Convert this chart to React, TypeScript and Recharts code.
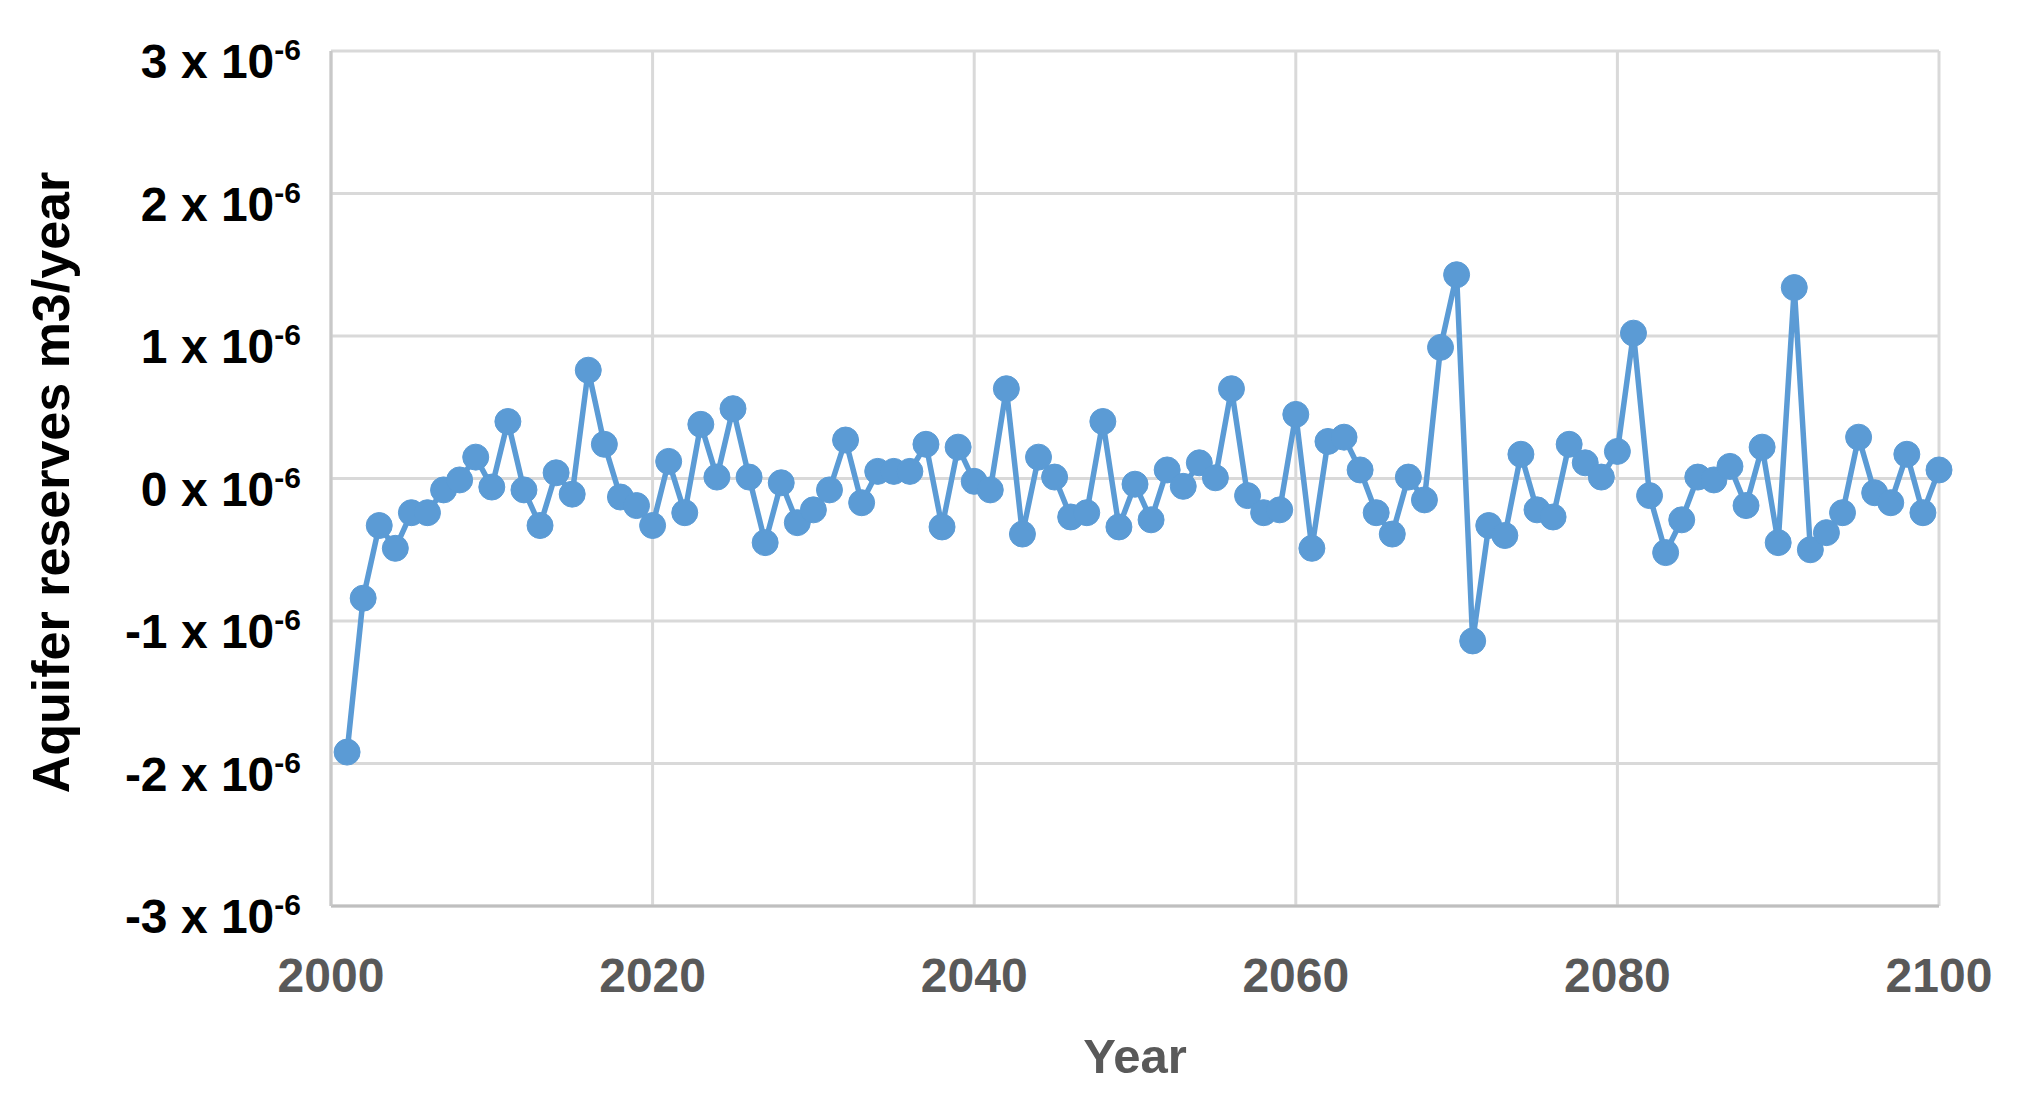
import React from 'react';
import { LineChart, Line, XAxis, YAxis, CartesianGrid, Label } from 'recharts';

// one point per year, 2001..2100
const years = Array.from({ length: 100 }, (_, i) => 2001 + i);

// aquifer reserves, in units of 10^-6 m3/year
const reserves = [
  -1.92, -0.84, -0.33, -0.49, -0.24, -0.24, -0.08, -0.01, 0.15, -0.06,
  0.4, -0.08, -0.33, 0.04, -0.11, 0.76, 0.24, -0.13, -0.19, -0.33,
  0.12, -0.24, 0.38, 0.01, 0.49, 0.01, -0.45, -0.03, -0.31, -0.22,
  -0.08, 0.27, -0.17, 0.05, 0.05, 0.05, 0.24, -0.34, 0.22, -0.02,
  -0.08, 0.63, -0.39, 0.15, 0.01, -0.27, -0.24, 0.4, -0.34, -0.04,
  -0.29, 0.06, -0.055, 0.11, 0.005, 0.63, -0.12, -0.24, -0.22, 0.45,
  -0.49, 0.26, 0.29, 0.06, -0.24, -0.39, 0.01, -0.15, 0.92, 1.43,
  -1.14, -0.33, -0.4, 0.17, -0.22, -0.27, 0.24, 0.11, 0.01, 0.19,
  1.02, -0.12, -0.52, -0.29, 0.01, -0.01, 0.085, -0.19, 0.22, -0.45,
  1.34, -0.5, -0.38, -0.24, 0.29, -0.1, -0.17, 0.17, -0.24, 0.06,
];

const xTicks = [2000, 2020, 2040, 2060, 2080, 2100];
const yTicks = [-3, -2, -1, 0, 1, 2, 3];

const data = years.map((year, i) => ({ year, value: reserves[i] }));

const FONT = '"Liberation Sans", Arial, sans-serif';

const YTick = (props: any) => {
  const { x, y, payload } = props;
  return (
    <text x={x} y={y + 27} textAnchor="end" fill="#000" fontFamily={FONT} fontWeight="bold" fontSize={48}>
      {`${payload.value} x 10`}
      <tspan fontSize={30} dy={-18}>-6</tspan>
    </text>
  );
};

const XTick = (props: any) => {
  const { x, y, payload } = props;
  return (
    <text x={x} y={y + 86} textAnchor="middle" fill="#595959" fontFamily={FONT} fontWeight="bold" fontSize={48}>
      {payload.value}
    </text>
  );
};

const YTitle = (props: any) => {
  const vb = props.viewBox;
  const cy = vb.y + vb.height / 2 + 4;
  return (
    <text x={61} y={cy} transform={`rotate(-90, 61, ${cy})`} textAnchor="middle" fill="#000"
      fontFamily={FONT} fontWeight="bold" fontSize={52}>
      Aquifer reserves m3/year
    </text>
  );
};

const App: React.FC = () => {
  return (
    <div style={{ width: 2007, height: 1082, background: '#fff' }}>
      <LineChart width={2007} height={1082} data={data} margin={{ top: 43, right: 76, bottom: 0, left: 0 }}>
        <CartesianGrid stroke="#d9d9d9" strokeWidth={3} />
        <XAxis
          dataKey="year"
          type="number"
          domain={[2000, 2100]}
          ticks={xTicks}
          height={184}
          tick={<XTick />}
          tickLine={false}
          tickSize={0}
          tickMargin={0}
          axisLine={{ stroke: '#bfbfbf', strokeWidth: 3 }}
        >
          <Label value="Year" position="insideBottom" offset={17} fill="#595959"
            style={{ fontFamily: FONT, fontWeight: 'bold', fontSize: 49 }} />
        </XAxis>
        <YAxis
          type="number"
          domain={[-3, 3]}
          ticks={yTicks}
          width={323}
          tick={<YTick />}
          tickLine={false}
          tickSize={0}
          tickMargin={30}
          axisLine={{ stroke: '#c8c8c8', strokeWidth: 3 }}
        >
          <Label content={<YTitle />} />
        </YAxis>
        <Line
          type="linear"
          dataKey="value"
          stroke="#5b9bd5"
          strokeWidth={5.5}
          dot={{ r: 13, fill: '#5b9bd5', stroke: '#5b9bd5', strokeWidth: 1 }}
          activeDot={false}
          isAnimationActive={false}
        />
      </LineChart>
    </div>
  );
};

export default App;
